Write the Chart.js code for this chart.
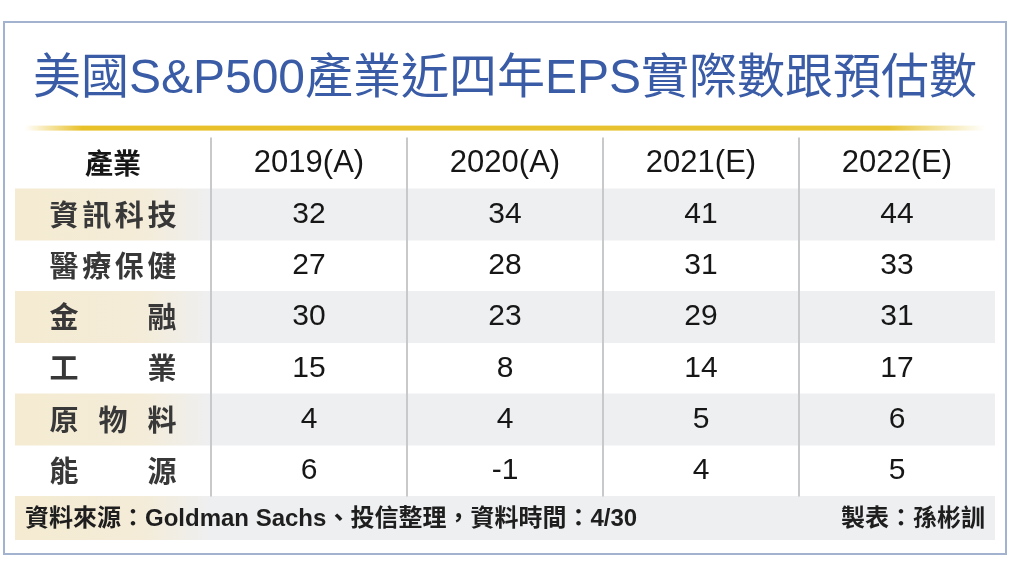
<!DOCTYPE html>
<html lang="zh-Hant">
  <head>
    <meta charset="UTF-8" />
    <title>美國S&P500產業近四年EPS實際數跟預估數</title>
    <script src="https://cdn.jsdelivr.net/npm/chart.js"></script>
    <style>
      body {
        margin: 0;
        background: #ffffff;
      }
      .wrap {
        position: relative;
        width: 1024px;
        height: 580px;
      }
      .frame {
        position: absolute;
        left: 3px;
        top: 21px;
        width: 1000px;
        height: 530px;
        border: 2px solid #a3b2cf;
        pointer-events: none;
      }
    </style>
  </head>
  <body>
    <div class="wrap">
      <canvas id="epsTable" width="1024" height="580"></canvas>
      <div class="frame"></div>
    </div>

    <script>
      // table data
      const columns = ['產業', '2019(A)', '2020(A)', '2021(E)', '2022(E)']
      const sectors = ['資訊科技', '醫療保健', '金融', '工業', '原物料', '能源']
      const eps2019 = [32, 27, 30, 15, 4, 6]
      const eps2020 = [34, 28, 23, 8, 4, -1]
      const eps2021 = [41, 31, 29, 14, 5, 4]
      const eps2022 = [44, 33, 31, 17, 6, 5]
      const shadedRows = [0, 2, 4]
      const sourceNote = '資料來源：Goldman Sachs、投信整理，資料時間：4/30'
      const makerNote = '製表：孫彬訓'

      const yearValues = [eps2019, eps2020, eps2021, eps2022]
      const footerTop = sectors.length
      const footerBottom = sectors.length + 0.85

      const latin = '"Liberation Sans", Arial, "Noto Sans CJK TC", sans-serif'

      // beige on the left, light gray for the rest of the row
      function rowFill(context) {
        const area = context.chart.chartArea
        if (!area) return '#eeeff1'
        const g = context.chart.ctx.createLinearGradient(area.left, 0, area.right, 0)
        g.addColorStop(0, '#f5ebd2')
        g.addColorStop(0.13, '#f4ecd8')
        g.addColorStop(0.2, '#eeeff1')
        g.addColorStop(1, '#eeeff1')
        return g
      }

      const datasets = shadedRows.map((r) => ({
        label: 'row' + r,
        data: columns.map(() => [r, r + 1]),
        backgroundColor: rowFill,
      }))
      datasets.push({
        label: 'footer',
        data: columns.map(() => [footerTop, footerBottom]),
        backgroundColor: rowFill,
      })

      const tablePlugin = {
        id: 'tableText',
        beforeDatasetsDraw(chart) {
          const ctx = chart.ctx
          const area = chart.chartArea
          // gold rule under the title
          const g = ctx.createLinearGradient(area.left + 10, 0, area.right - 10, 0)
          g.addColorStop(0, 'rgba(232,190,30,0)')
          g.addColorStop(0.06, 'rgba(232,192,40,1)')
          g.addColorStop(0.9, 'rgba(232,196,50,1)')
          g.addColorStop(1, 'rgba(232,200,60,0)')
          ctx.save()
          ctx.fillStyle = g
          ctx.fillRect(area.left + 10, area.top - 12, area.right - area.left - 20, 5)
          ctx.restore()
        },
        afterDatasetsDraw(chart) {
          const ctx = chart.ctx
          const x = chart.scales.x
          const y = chart.scales.y
          const colW = x.getPixelForValue(1) - x.getPixelForValue(0)
          ctx.save()

          // column separators
          ctx.strokeStyle = '#c8c9cb'
          ctx.lineWidth = 2
          for (let i = 1; i < columns.length; i++) {
            const px = x.getPixelForValue(i) - colW / 2
            ctx.beginPath()
            ctx.moveTo(px, y.getPixelForValue(-1))
            ctx.lineTo(px, y.getPixelForValue(footerTop))
            ctx.stroke()
          }

          ctx.textBaseline = 'middle'
          ctx.textAlign = 'center'
          ctx.fillStyle = '#161616'

          // header
          const hy = y.getPixelForValue(-0.5)
          ctx.font = 'bold 28px "Noto Sans CJK TC", sans-serif'
          ctx.fillText(columns[0], x.getPixelForValue(0), hy)
          ctx.font = '31px ' + latin
          for (let i = 1; i < columns.length; i++) {
            ctx.fillText(columns[i], x.getPixelForValue(i), hy)
          }

          // values
          ctx.font = '30px ' + latin
          yearValues.forEach((vals, c) => {
            vals.forEach((v, r) => {
              ctx.fillText(String(v), x.getPixelForValue(c + 1), y.getPixelForValue(r + 0.5))
            })
          })

          // sector names, spread over the label width
          ctx.font = 'bold 29px "Noto Sans CJK TC", sans-serif'
          ctx.fillStyle = '#383838'
          const cx = x.getPixelForValue(0)
          const span = 128
          const size = 30
          sectors.forEach((name, r) => {
            const chars = Array.from(name)
            const py = y.getPixelForValue(r + 0.5)
            const step = (span - size) / (chars.length - 1)
            chars.forEach((ch, k) => {
              ctx.fillText(ch, cx - span / 2 + size / 2 + k * step, py)
            })
          })

          // footer notes
          const fy = y.getPixelForValue((footerTop + footerBottom) / 2) + 1
          ctx.fillStyle = '#1e1e1e'
          ctx.font = 'bold 24px "Liberation Sans", Arial, "Noto Sans CJK TC", sans-serif'
          ctx.textAlign = 'left'
          ctx.fillText(sourceNote, x.getPixelForValue(0) - colW / 2 + 10, fy)
          ctx.textAlign = 'right'
          ctx.fillText(makerNote, x.getPixelForValue(columns.length - 1) + colW / 2 - 10, fy)

          ctx.restore()
        },
      }

      new Chart(document.getElementById('epsTable'), {
        type: 'bar',
        data: {
          labels: columns,
          datasets: datasets,
        },
        options: {
          responsive: false,
          animation: false,
          events: [],
          layout: {
            padding: { left: 15, right: 29, top: 21, bottom: 40 },
          },
          datasets: {
            bar: {
              grouped: false,
              barPercentage: 1,
              categoryPercentage: 1,
              borderWidth: 0,
            },
          },
          scales: {
            x: { type: 'category', display: false, offset: true },
            y: { type: 'linear', display: false, min: -1, max: footerBottom, reverse: true },
          },
          plugins: {
            legend: { display: false },
            tooltip: { enabled: false },
            title: {
              display: true,
              text: '美國S&P500產業近四年EPS實際數跟預估數',
              color: '#3a5ca6',
              font: { size: 48, weight: 'normal', family: latin, lineHeight: 1.2 },
              padding: { top: 30, bottom: 29 },
            },
          },
        },
        plugins: [tablePlugin],
      })
    </script>
  </body>
</html>
